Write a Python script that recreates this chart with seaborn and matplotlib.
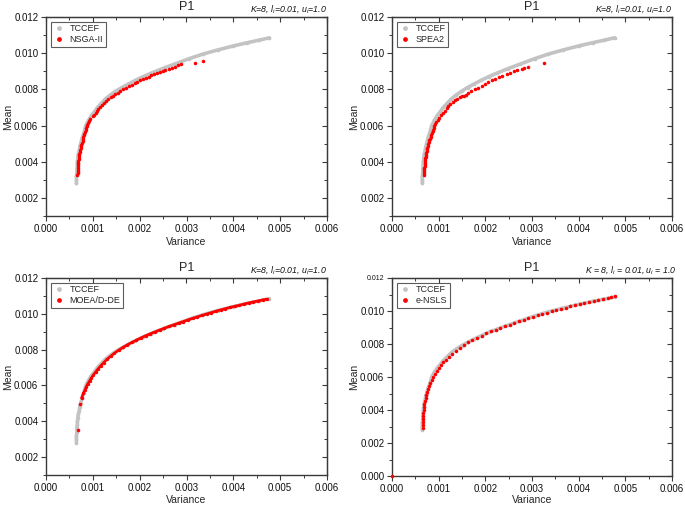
import numpy as np
import pandas as pd
import matplotlib
matplotlib.use("Agg")
import matplotlib.pyplot as plt
from matplotlib.lines import Line2D
from matplotlib.ticker import MultipleLocator, FormatStrFormatter
import seaborn as sns

# ---------------- data ----------------
tccef_var = [0.00065, 0.00065, 0.00065, 0.00066, 0.00066, 0.00067, 0.00067, 0.00068,
             0.00069, 0.00071, 0.00072, 0.00074, 0.00077, 0.00081, 0.00085, 0.00091,
             0.00097, 0.00103, 0.00110, 0.00118, 0.00126, 0.00137, 0.00149, 0.00162,
             0.00176, 0.00191, 0.00207, 0.00225, 0.00249, 0.00275, 0.00306, 0.00335,
             0.00367, 0.00400, 0.00430, 0.00455, 0.00477]
tccef_mean = [0.00280, 0.00300, 0.00320, 0.00340, 0.00360, 0.00380, 0.00400, 0.00420,
              0.00440, 0.00460, 0.00480, 0.00500, 0.00530, 0.00560, 0.00600, 0.00630,
              0.00655, 0.00675, 0.00700, 0.00722, 0.00745, 0.00768, 0.00790, 0.00810,
              0.00830, 0.00850, 0.00870, 0.00890, 0.00915, 0.00940, 0.00970, 0.00995,
              0.01018, 0.01040, 0.01058, 0.01072, 0.01085]

nsga_var = [0.00067, 0.00068, 0.00068, 0.00068, 0.00068, 0.00069, 0.00069, 0.00069,
            0.00069, 0.00070, 0.00070, 0.00071, 0.00071, 0.00072, 0.00073, 0.00074,
            0.00075, 0.00075, 0.00077, 0.00078, 0.00079, 0.00080, 0.00081, 0.00082,
            0.00084, 0.00085, 0.00086, 0.00087, 0.00088, 0.00090, 0.00092, 0.00095,
            0.00100, 0.00103, 0.00106, 0.00109, 0.00112, 0.00116, 0.00120, 0.00124,
            0.00128, 0.00133, 0.00138, 0.00143, 0.00148, 0.00153, 0.00159, 0.00165,
            0.00171, 0.00177, 0.00183, 0.00189, 0.00195, 0.00201, 0.00207, 0.00213,
            0.00219, 0.00225, 0.00231, 0.00237, 0.00243, 0.00249, 0.00255, 0.00262,
            0.00268, 0.00275, 0.00281, 0.00289, 0.00318, 0.00335]
nsga_mean = [0.00325, 0.00335, 0.00345, 0.00355, 0.00365, 0.00375, 0.00385, 0.00395,
             0.00405, 0.00415, 0.00425, 0.00435, 0.00445, 0.00455, 0.00465, 0.00475,
             0.00485, 0.00495, 0.00505, 0.00515, 0.00525, 0.00535, 0.00545, 0.00555,
             0.00565, 0.00575, 0.00585, 0.00595, 0.00605, 0.00615, 0.00625, 0.00635,
             0.00650, 0.00660, 0.00671, 0.00681, 0.00691, 0.00702, 0.00713, 0.00724,
             0.00735, 0.00746, 0.00756, 0.00765, 0.00774, 0.00782, 0.00791, 0.00800,
             0.00809, 0.00817, 0.00825, 0.00833, 0.00841, 0.00849, 0.00857, 0.00864,
             0.00871, 0.00877, 0.00883, 0.00890, 0.00896, 0.00902, 0.00908, 0.00914,
             0.00920, 0.00926, 0.00932, 0.00939, 0.00946, 0.00956]

spea_var = [0.00068, 0.00068, 0.00069, 0.00069, 0.00069, 0.00070, 0.00070, 0.00070,
            0.00071, 0.00071, 0.00072, 0.00072, 0.00073, 0.00074, 0.00075, 0.00076,
            0.00077, 0.00078, 0.00079, 0.00080, 0.00081, 0.00083, 0.00084, 0.00085,
            0.00087, 0.00088, 0.00089, 0.00091, 0.00093, 0.00095, 0.00098,
            0.00101, 0.00105, 0.00109, 0.00113, 0.00117, 0.00121, 0.00125, 0.00130,
            0.00135, 0.00140, 0.00145, 0.00150, 0.00154, 0.00158, 0.00163, 0.00170,
            0.00177, 0.00184, 0.00192, 0.00200, 0.00206, 0.00214, 0.00220, 0.00230,
            0.00236, 0.00246, 0.00252, 0.00262, 0.00268, 0.00278, 0.00283, 0.00292,
            0.00326]
spea_mean = [0.00328, 0.00338, 0.00348, 0.00358, 0.00368, 0.00378, 0.00388, 0.00398,
             0.00408, 0.00418, 0.00428, 0.00438, 0.00448, 0.00458, 0.00468, 0.00478,
             0.00488, 0.00498, 0.00508, 0.00518, 0.00528, 0.00538, 0.00548, 0.00558,
             0.00568, 0.00578, 0.00588, 0.00598, 0.00608, 0.00618, 0.00628,
             0.00642, 0.00656, 0.00670, 0.00683, 0.00695, 0.00707, 0.00718, 0.00729,
             0.00739, 0.00749, 0.00758, 0.00764, 0.00766, 0.00770, 0.00778, 0.00789,
             0.00800, 0.00809, 0.00820, 0.00830, 0.00838, 0.00850, 0.00857, 0.00868,
             0.00875, 0.00884, 0.00890, 0.00900, 0.00905, 0.00914, 0.00918, 0.00924,
             0.00943]

# MOEA/D-DE: two isolated points plus a dense run along the front
moead_iso_var = [0.00069, 0.00072]
moead_iso_mean = [0.00354, 0.00494]
moead_var = [0.00076, 0.00080, 0.00083, 0.00086, 0.00089, 0.00093,
             0.00097, 0.00101, 0.00106, 0.00111, 0.00117, 0.00123, 0.00130, 0.00138,
             0.00146, 0.00155, 0.00164, 0.00173, 0.00183, 0.00193, 0.00203, 0.00213,
             0.00223, 0.00233, 0.00243, 0.00253, 0.00263, 0.00273, 0.00283, 0.00293,
             0.00303, 0.00313, 0.00323, 0.00333, 0.00343, 0.00353, 0.00363, 0.00373,
             0.00383, 0.00393, 0.00403, 0.00413, 0.00423, 0.00433, 0.00443, 0.00453,
             0.00463, 0.00471]
moead_mean = [0.00530, 0.00556, 0.00574, 0.00592, 0.00608, 0.00625,
              0.00642, 0.00658, 0.00675, 0.00692, 0.00710, 0.00727, 0.00745, 0.00763,
              0.00780, 0.00797, 0.00812, 0.00826, 0.00840, 0.00853, 0.00866, 0.00878,
              0.00889, 0.00900, 0.00910, 0.00920, 0.00930, 0.00939, 0.00948, 0.00957,
              0.00966, 0.00975, 0.00983, 0.00991, 0.00999, 0.01007, 0.01015, 0.01022,
              0.01029, 0.01036, 0.01042, 0.01048, 0.01055, 0.01061, 0.01067, 0.01072,
              0.01078, 0.01082]

ensls_var = [0.00066, 0.00066, 0.00066, 0.00066, 0.00067, 0.00067, 0.00068, 0.00068,
             0.00069, 0.00070, 0.00072, 0.00073, 0.00075, 0.00077, 0.00079, 0.00082,
             0.00085, 0.00088, 0.00092, 0.00096, 0.00100, 0.00105, 0.00110, 0.00116,
             0.00122, 0.00129, 0.00137, 0.00145, 0.00154, 0.00163, 0.00172, 0.00182,
             0.00192, 0.00202, 0.00212, 0.00222, 0.00232, 0.00242, 0.00252, 0.00262,
             0.00272, 0.00282, 0.00292, 0.00302, 0.00312, 0.00322, 0.00332, 0.00342,
             0.00352, 0.00362, 0.00372, 0.00382, 0.00392, 0.00402, 0.00412, 0.00422,
             0.00432, 0.00442, 0.00452, 0.00462, 0.00470, 0.00478, 0.0]
ensls_mean = [0.00292, 0.00310, 0.00328, 0.00346, 0.00364, 0.00382, 0.00400, 0.00418,
              0.00436, 0.00454, 0.00472, 0.00490, 0.00508, 0.00526, 0.00544, 0.00562,
              0.00580, 0.00598, 0.00616, 0.00634, 0.00652, 0.00670, 0.00688, 0.00706,
              0.00724, 0.00742, 0.00760, 0.00778, 0.00795, 0.00810, 0.00824, 0.00838,
              0.00851, 0.00864, 0.00876, 0.00887, 0.00898, 0.00908, 0.00918, 0.00928,
              0.00937, 0.00947, 0.00956, 0.00965, 0.00974, 0.00982, 0.00990, 0.00998,
              0.01006, 0.01014, 0.01021, 0.01028, 0.01035, 0.01042, 0.01048, 0.01054,
              0.01060, 0.01066, 0.01072, 0.01078, 0.01083, 0.01088, 0.0]

# (legend name, red x, red y, y-axis minimum, annotation style, dense run drawn joined)
panels = [
    ("NSGA-II", nsga_var, nsga_mean, 0.001, "compact", None),
    ("SPEA2", spea_var, spea_mean, 0.001, "compact", None),
    ("MOEA/D-DE", moead_iso_var, moead_iso_mean, 0.001, "compact", (moead_var, moead_mean)),
    ("e-NSLS", ensls_var, ensls_mean, 0.0, "spaced", None),
]
title = "P1"
x_label = "Variance"
y_label = "Mean"

# ---------------- style ----------------
sns.set_style("ticks")
plt.rcParams["font.family"] = ["Liberation Sans", "DejaVu Sans"]
plt.rcParams["mathtext.fontset"] = "custom"
plt.rcParams["mathtext.it"] = "Liberation Sans:italic"
plt.rcParams["mathtext.rm"] = "Liberation Sans"

GRAY = "#c3c3c3"
RED = "#ff0000"
SPINE = "#3a3a3a"

fig = plt.figure(figsize=(6.85, 5.05), dpi=100)
positions = [
    [46/685, 1-216/505, 281/685, 199/505],
    [392/685, 1-216/505, 280/685, 199/505],
    [46/685, 1-475/505, 281/685, 197/505],
    [392/685, 1-476/505, 280/685, 198/505],
]
xlabel_y = [-0.104, -0.104, -0.100, -0.098]

for i, (name, rv, rm, ymin, annstyle, dense) in enumerate(panels):
    ax = fig.add_axes(positions[i])
    df_t = pd.DataFrame({"Variance": tccef_var, "Mean": tccef_mean})
    df_r = pd.DataFrame({"Variance": rv, "Mean": rm})
    sns.lineplot(data=df_t, x="Variance", y="Mean", sort=False, estimator=None,
                 color=GRAY, lw=2.6, ax=ax, zorder=2)
    sns.scatterplot(data=df_t, x="Variance", y="Mean", color=GRAY, s=7,
                    linewidth=0, ax=ax, zorder=2)
    if dense is not None:
        df_d = pd.DataFrame({"Variance": dense[0], "Mean": dense[1]})
        sns.lineplot(data=df_d, x="Variance", y="Mean", sort=False, estimator=None,
                     color=RED, lw=1.9, ax=ax, zorder=3)
        sns.scatterplot(data=df_d, x="Variance", y="Mean", color=RED, s=6,
                        linewidth=0, ax=ax, zorder=3)
    sns.scatterplot(data=df_r, x="Variance", y="Mean", color=RED, s=6.5,
                    linewidth=0, ax=ax, zorder=3, clip_on=False)

    ax.set_xlim(0, 0.006)
    ax.set_ylim(ymin, 0.012)
    ax.xaxis.set_major_locator(MultipleLocator(0.001))
    ax.xaxis.set_minor_locator(MultipleLocator(0.0005))
    ax.yaxis.set_major_locator(MultipleLocator(0.002))
    ax.yaxis.set_minor_locator(MultipleLocator(0.001))
    ax.xaxis.set_major_formatter(FormatStrFormatter("%.3f"))
    ax.yaxis.set_major_formatter(FormatStrFormatter("%.3f"))
    ax.tick_params(which="both", direction="out", labelsize=7, color=SPINE,
                   labelcolor="#111111", pad=2)
    ax.tick_params(which="major", length=3.5, width=0.8)
    ax.tick_params(which="minor", length=2, width=0.7)
    for sp in ax.spines.values():
        sp.set_visible(True)
        sp.set_color(SPINE)
        sp.set_linewidth(1.0)

    # mirrored ticks on top and right, pointing in
    top = ax.secondary_xaxis("top")
    top.xaxis.set_major_locator(MultipleLocator(0.001))
    top.xaxis.set_minor_locator(MultipleLocator(0.0005))
    top.tick_params(which="both", direction="in", labeltop=False, color=SPINE)
    top.tick_params(which="major", length=3.5, width=0.8)
    top.tick_params(which="minor", length=2, width=0.7)
    top.spines["top"].set_color(SPINE)
    right = ax.secondary_yaxis("right")
    right.yaxis.set_major_locator(MultipleLocator(0.002))
    right.yaxis.set_minor_locator(MultipleLocator(0.001))
    right.tick_params(which="both", direction="in", labelright=False, color=SPINE)
    right.tick_params(which="major", length=3.5, width=0.8)
    right.tick_params(which="minor", length=2, width=0.7)
    right.spines["right"].set_color(SPINE)

    if i == 3:
        fig.canvas.draw()
        for lab in ax.get_yticklabels():
            if lab.get_text() == "0.012":
                lab.set_fontsize(5)

    ax.set_xlabel(x_label, fontsize=7.5)
    ax.set_ylabel(y_label, fontsize=7.5)
    ax.xaxis.set_label_coords(0.5, xlabel_y[i])
    ax.yaxis.set_label_coords(-0.118, 0.5)
    ax.set_title(title, fontsize=9, pad=5)
    if annstyle == "spaced":
        ann = r"$K$ = 8, $l_i$ = 0.01, $u_i$ = 1.0"
        fs = 6.3
        xa = 1.015
    else:
        ann = r"$K$=8, $l_i$=0.01, $u_i$=1.0"
        fs = 6.3
        xa = 1.0
    ax.text(xa, 1.008, ann, transform=ax.transAxes, ha="right", va="bottom",
            fontsize=fs, style="italic", color="#111111")

    handles = [
        Line2D([], [], ls="none", marker="o", ms=2.4, mfc=GRAY, mec=GRAY, label="TCCEF"),
        Line2D([], [], ls="none", marker="o", ms=2.4, mfc=RED, mec=RED, label=name),
    ]
    leg = ax.legend(handles=handles, loc="upper left", fontsize=6.5, frameon=True,
                    fancybox=False, edgecolor="#333333", handlelength=1.2,
                    handletextpad=0.6, borderpad=0.3, labelspacing=0.25,
                    borderaxespad=0.5)
    leg.get_frame().set_linewidth(0.8)

fig.savefig("out.png", dpi=100)
